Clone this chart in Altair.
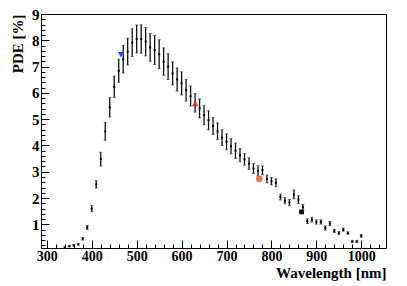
import altair as alt
import pandas as pd

wavelength = list(range(340, 1001, 10))
pde = [0.12, 0.17, 0.20, 0.24, 0.45, 0.88, 1.60, 2.52, 3.48, 4.54,
       5.45, 6.23, 6.84, 7.28, 7.57, 7.91, 8.05, 8.05, 7.95, 7.73,
       7.63, 7.47, 7.19, 7.00, 6.74, 6.51, 6.36, 6.10, 5.88, 5.62,
       5.41, 5.15, 4.96, 4.74, 4.54, 4.30, 4.14, 3.97, 3.80, 3.63,
       3.47, 3.31, 3.12, 3.03, 3.06, 2.73, 2.64, 2.58, 2.04, 1.90,
       1.83, 2.14, 1.94, 1.65, 1.12, 1.18, 1.09, 1.09, 0.86, 1.03,
       0.75, 0.67, 0.80, 0.67, 0.35, 0.35, 0.56]
err = [0.03, 0.03, 0.03, 0.03, 0.05, 0.08, 0.12, 0.14, 0.26, 0.34,
       0.37, 0.41, 0.44, 0.52, 0.51, 0.53, 0.53, 0.54, 0.54, 0.53,
       0.55, 0.55, 0.52, 0.49, 0.44, 0.44, 0.44, 0.41, 0.38, 0.35,
       0.36, 0.36, 0.36, 0.32, 0.32, 0.30, 0.30, 0.29, 0.29, 0.25,
       0.22, 0.22, 0.19, 0.20, 0.16, 0.15, 0.14, 0.15, 0.11, 0.12,
       0.12, 0.17, 0.15, 0.11, 0.09, 0.09, 0.08, 0.08, 0.08, 0.08,
       0.06, 0.06, 0.06, 0.05, 0.04, 0.04, 0.05]

special_wl = [465, 630, 773, 867]
special_pde = [7.45, 5.60, 2.73, 1.47]
special_shape = ["triangle-down", "triangle-up", "circle", "square"]
special_color = ["#2244ff", "#ff2a00", "#e8705f", "#000000"]
special_size = [40, 40, 45, 22]

x_major = [300, 400, 500, 600, 700, 800, 900, 1000]
x_minor = list(range(280, 1061, 20))
y_major = [1, 2, 3, 4, 5, 6, 7, 8, 9]
y_minor = [round(0.2 * i, 1) for i in range(1, 46)]

df = pd.DataFrame({"wl": wavelength, "pde": pde, "err": err})
df["lo"] = df["pde"] - df["err"]
df["hi"] = df["pde"] + df["err"]

sp = pd.DataFrame({"wl": special_wl, "pde": special_pde, "shape": special_shape,
                   "color": special_color, "size": special_size})

FONT = "Liberation Serif"
xs = alt.Scale(domain=[287, 1055], nice=False, zero=False)
ys = alt.Scale(domain=[0.1, 9], nice=False, zero=False)

major_x = alt.Axis(values=x_major, format="d", tickSize=8, offset=-8, domain=False,
                   tickColor="black", labelFont=FONT, labelFontWeight="bold",
                   labelFontSize=14, labelColor="black", labelPadding=1,
                   grid=False, orient="bottom",
                   title="Wavelength [nm]", titleFont=FONT, titleFontWeight="bold",
                   titleFontSize=15, titleColor="black", titleAnchor="end",
                   titleAlign="right", titleX=345, titleY=37, titleBaseline="alphabetic")
minor_x = alt.Axis(values=x_minor, tickSize=4, offset=-4, domain=False, labels=False,
                   tickColor="black", grid=False, title=None, orient="bottom")
major_y = alt.Axis(values=y_major, format="d", tickSize=8, offset=-8, domain=False,
                   tickColor="black", labelFont=FONT, labelFontWeight="bold",
                   labelFontSize=15, labelColor="black", labelPadding=2,
                   grid=False, orient="left",
                   title="PDE [%]", titleFont=FONT, titleFontWeight="bold",
                   titleFontSize=15, titleColor="black", titleAngle=270,
                   titleAlign="right", titleX=-27, titleY=0, titleBaseline="alphabetic")
minor_y = alt.Axis(values=y_minor, tickSize=4, offset=-4, domain=False, labels=False,
                   tickColor="black", grid=False, title=None, orient="left")

base = alt.Chart(df)

bars = base.mark_rule(color="#111111", strokeWidth=1.3).encode(
    x=alt.X("wl:Q", scale=xs, axis=major_x),
    y=alt.Y("lo:Q", scale=ys, axis=major_y),
    y2="hi:Q",
)

pts = base.mark_point(shape="square", filled=True, color="black", size=4, opacity=1).encode(
    x=alt.X("wl:Q", scale=xs, axis=minor_x),
    y=alt.Y("pde:Q", scale=ys, axis=minor_y),
)

caps_lo = base.mark_tick(color="#333333", size=3, thickness=1, orient="horizontal").encode(
    x=alt.X("wl:Q", scale=xs, axis=None),
    y=alt.Y("lo:Q", scale=ys, axis=None),
)
caps_hi = base.mark_tick(color="#333333", size=3, thickness=1, orient="horizontal").encode(
    x=alt.X("wl:Q", scale=xs, axis=None),
    y=alt.Y("hi:Q", scale=ys, axis=None),
)

marks = alt.Chart(sp).mark_point(filled=True, opacity=1).encode(
    x=alt.X("wl:Q", scale=xs, axis=None),
    y=alt.Y("pde:Q", scale=ys, axis=None),
    shape=alt.Shape("shape:N", scale=None),
    color=alt.Color("color:N", scale=None),
    size=alt.Size("size:Q", scale=None),
)

chart = alt.layer(bars, pts, caps_lo, caps_hi, marks).resolve_axis(
    x="independent", y="independent"
).properties(
    width=345, height=234,
    autosize=alt.AutoSizeParams(type="none"),
    padding={"left": 33, "top": 6, "right": 13, "bottom": 38},
    background="white",
).configure_view(stroke="black", strokeWidth=1)

chart.save("out.html", embed_options={"renderer": "svg", "actions": False})
